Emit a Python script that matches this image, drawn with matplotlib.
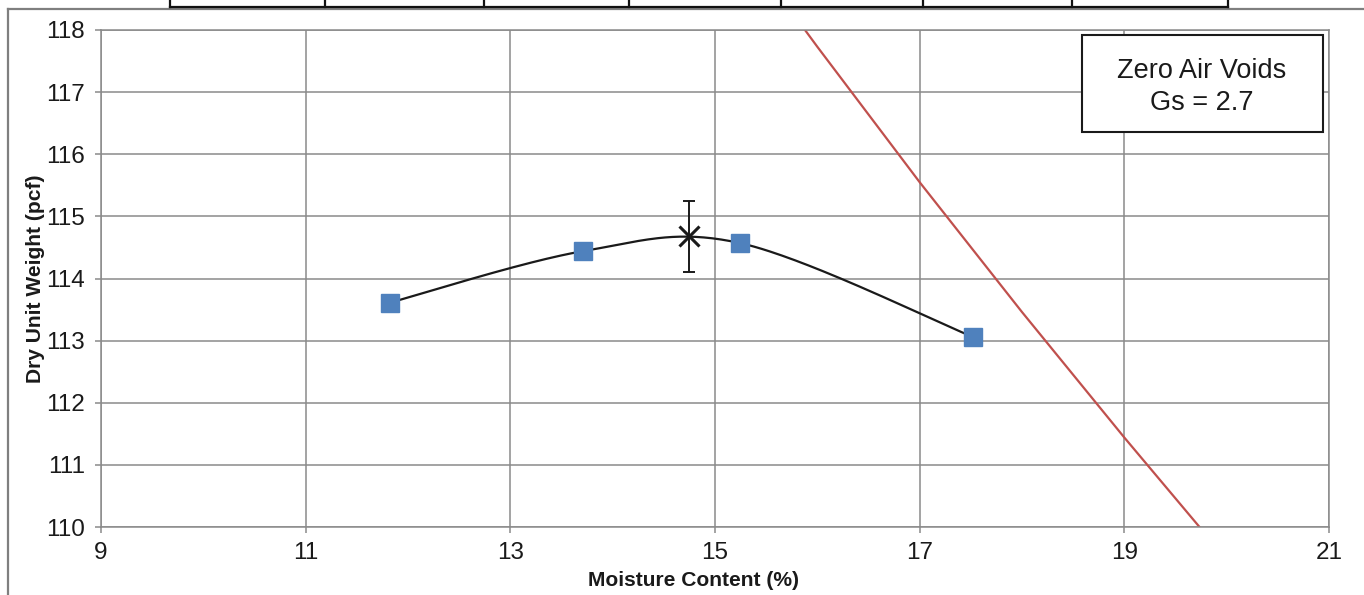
import numpy as np
import matplotlib
matplotlib.use("Agg")
import matplotlib.pyplot as plt
from matplotlib.patches import Rectangle
from matplotlib.lines import Line2D

plt.rcParams['font.family'] = ['Liberation Sans', 'DejaVu Sans']

# ---- data ----
moisture = [11.82, 13.71, 15.245, 17.52]          # %
dry_unit_weight = [113.61, 114.44, 114.57, 113.06]  # pcf
opt_moisture = [14.75]
opt_dry_weight = [114.68]
opt_err = [0.57]
zav_moisture = [15.5, 16.0, 17.0, 18.0, 19.0, 20.0]
zav_weight = [118.85, 117.73, 115.55, 113.46, 111.44, 109.48]
x_ticks = [9, 11, 13, 15, 17, 19, 21]
y_ticks = [110, 111, 112, 113, 114, 115, 116, 117, 118]
x_label = "Moisture Content (%)"
y_label = "Dry Unit Weight (pcf)"
box_text = "Zero Air Voids\nGs = 2.7"

W, H = 1364, 595
fig = plt.figure(figsize=(W / 100, H / 100), dpi=100)

def fx(px):
    return px / W

def fy(py):
    return 1 - py / H

ax = fig.add_axes([fx(101), fy(527), fx(1329) - fx(101), fy(30) - fy(527)])

grid_c = '#8a8a8a'

# Excel-style smoothed line through the points (Bezier, tension 1/6)
def excel_smooth(xs, ys, n=60):
    P = np.column_stack([xs, ys]).astype(float)
    out = []
    for i in range(len(P) - 1):
        p0 = P[i - 1] if i > 0 else P[i]
        p1 = P[i]
        p2 = P[i + 1]
        p3 = P[i + 2] if i + 2 < len(P) else P[i + 1]
        c1 = p1 + (p2 - p0) / 6
        c2 = p2 - (p3 - p1) / 6
        t = np.linspace(0, 1, n)[:, None]
        seg = ((1 - t) ** 3) * p1 + 3 * ((1 - t) ** 2) * t * c1 + 3 * (1 - t) * t ** 2 * c2 + t ** 3 * p2
        out.append(seg if i == 0 else seg[1:])
    seg = np.vstack(out)
    return seg[:, 0], seg[:, 1]

sx, sy = excel_smooth(moisture, dry_unit_weight)
ax.plot(sx, sy, color='#1a1a1a', lw=1.6, zorder=3)
ax.plot(moisture, dry_unit_weight, ls='none', marker='s', ms=12.5,
        mfc='#4F81BD', mec='#4F81BD', zorder=4)
ax.errorbar(opt_moisture, opt_dry_weight, yerr=opt_err, fmt='none',
            ecolor='#1a1a1a', elinewidth=1.4, capsize=4.5, capthick=1.4, zorder=5)
ax.plot(opt_moisture, opt_dry_weight, ls='none', marker='x', ms=14,
        mew=2.2, color='#1a1a1a', zorder=6)
ax.plot(zav_moisture, zav_weight, color='#C0504D', lw=1.6, zorder=2)

ax.set_xlim(9, 21)
ax.set_ylim(110, 118)
ax.set_xticks(x_ticks)
ax.set_yticks(y_ticks)
ax.set_xticklabels([str(v) for v in x_ticks])
ax.set_yticklabels([str(v) for v in y_ticks])
ax.grid(True, color=grid_c, lw=1.1)
ax.set_axisbelow(True)
for s in ax.spines.values():
    s.set_color(grid_c)
    s.set_linewidth(1.1)
ax.tick_params(axis='both', direction='out', length=4.5, width=1.1, color=grid_c,
               labelsize=17.5, labelcolor='#1a1a1a')
ax.tick_params(axis='x', pad=6)
ax.tick_params(axis='y', pad=7)
ax.set_xlabel(x_label, fontsize=15.1, fontweight='bold', color='#1a1a1a', labelpad=5)
ax.xaxis.label.set_x((693.5 - 101) / 1228)
ax.set_ylabel(y_label, fontsize=15.1, fontweight='bold', color='#1a1a1a', labelpad=1)

# Zero air voids label box
fig.patches.append(Rectangle((fx(1082), fy(132)), fx(1323) - fx(1082), fy(35) - fy(132),
                             transform=fig.transFigure, facecolor='white',
                             edgecolor='#1a1a1a', lw=1.5, zorder=10))
fig.text(fx(1202), fy(87), box_text, ha='center', va='center', fontsize=19.5,
         color='#1a1a1a', linespacing=1.32, zorder=11)

# outer frame fragments
frame_c = '#7f7f7f'
fig.add_artist(Line2D([fx(8), 1.0], [fy(9), fy(9)], transform=fig.transFigure,
                      color=frame_c, lw=1.6))
fig.add_artist(Line2D([fx(8), fx(8)], [fy(9), 0.0], transform=fig.transFigure,
                      color=frame_c, lw=1.6))
# table cells peeking at the top
cells = [170, 325, 484, 629, 781, 923, 1072, 1228]
fig.add_artist(Line2D([fx(cells[0]), fx(cells[-1])], [fy(6.5), fy(6.5)],
                      transform=fig.transFigure, color='#111111', lw=1.6))
for c in cells:
    fig.add_artist(Line2D([fx(c), fx(c)], [fy(6.5), 1.0], transform=fig.transFigure,
                          color='#111111', lw=1.6))

fig.savefig('out.png', dpi=100)
